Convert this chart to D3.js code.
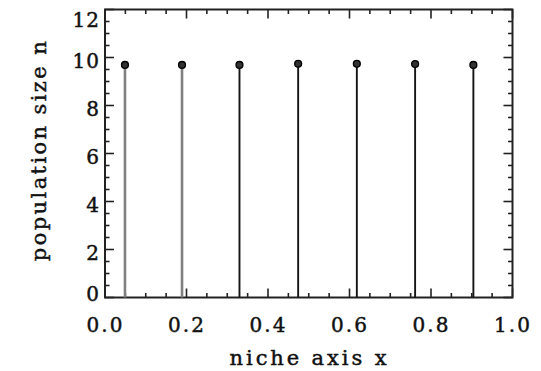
<!DOCTYPE html>
<html><head><meta charset="utf-8">
<script src="https://cdn.jsdelivr.net/npm/d3@7"></script>
<style>
html,body{margin:0;padding:0;background:#fff;}
svg text{font-family:"DejaVu Serif",serif;fill:#111;stroke:#111;stroke-width:0.45px;}
</style></head>
<body><svg id="c" width="541" height="371"></svg>
<script>
const nicheX = [0.049, 0.189, 0.330, 0.474, 0.618, 0.761, 0.904];
const popN = [9.69, 9.69, 9.69, 9.74, 9.74, 9.73, 9.69];
const xTicks = [0.0, 0.2, 0.4, 0.6, 0.8, 1.0];
const yTicks = [0, 2, 4, 6, 8, 10, 12];
const xLabel = "niche axis x";
const yLabel = "population size n";

const svg = d3.select("#c");
const L = 105, R = 512.5, T = 9.5, B = 297.5;
const x = d3.scaleLinear().domain([0, 1]).range([L, R]);
const y = d3.scaleLinear().domain([0, 12]).range([B, T]);
const ink = "#222";

// minor ticks
const xMinor = d3.range(0, 1.0001, 0.05);
const yMinor = d3.range(0, 12.0001, 0.5);
const g = svg.append("g");
function tickLen(isMajor){return isMajor ? 9 : 4.5;}
xMinor.forEach(v => {
  const major = Math.abs(v*5 - Math.round(v*5)) < 1e-6;
  const len = tickLen(major);
  g.append("line").attr("x1", x(v)).attr("x2", x(v)).attr("y1", B).attr("y2", B-len).attr("stroke", ink).attr("stroke-width", 1.6);
  g.append("line").attr("x1", x(v)).attr("x2", x(v)).attr("y1", T).attr("y2", T+len).attr("stroke", ink).attr("stroke-width", 1.6);
});
yMinor.forEach(v => {
  const major = Math.abs(v/2 - Math.round(v/2)) < 1e-6;
  const len = tickLen(major);
  g.append("line").attr("x1", L).attr("x2", L+len).attr("y1", y(v)).attr("y2", y(v)).attr("stroke", ink).attr("stroke-width", 1.6);
  g.append("line").attr("x1", R).attr("x2", R-len).attr("y1", y(v)).attr("y2", y(v)).attr("stroke", ink).attr("stroke-width", 1.6);
});

// frame
svg.append("rect").attr("x", L).attr("y", T).attr("width", R-L).attr("height", B-T)
  .attr("fill", "none").attr("stroke", ink).attr("stroke-width", 2);

// axes labels via d3 axes (lines hidden)
const xa = svg.append("g").attr("transform", `translate(0,${B})`)
  .call(d3.axisBottom(x).tickValues(xTicks).tickFormat(d3.format(".1f")).tickSize(0).tickPadding(0));
xa.select(".domain").remove();
xa.selectAll("text").attr("font-size", 20).attr("dy", null).attr("y", 34)
  .attr("font-family", "DejaVu Serif").attr("letter-spacing", 2).attr("fill", "#111");

const ya = svg.append("g").attr("transform", `translate(${L},0)`)
  .call(d3.axisLeft(y).tickValues(yTicks).tickFormat(d3.format("d")).tickSize(0).tickPadding(0));
ya.select(".domain").remove();
ya.selectAll("text").attr("font-size", 20).attr("x", -5).attr("dy", "0.38em")
  .attr("font-family", "DejaVu Serif").attr("letter-spacing", 1).attr("fill", "#111")
  .attr("transform", d => d === 12 ? "translate(0,9)" : d === 0 ? "translate(0,-5)" : "translate(0,2)");

// stems
svg.append("g").selectAll("line").data(nicheX).join("line")
  .attr("x1", d => x(d)).attr("x2", d => x(d))
  .attr("y1", y(0)).attr("y2", (d, i) => y(popN[i]))
  .attr("stroke", (d, i) => i < 2 ? "#808080" : "#151515")
  .attr("stroke-width", (d, i) => i < 2 ? 2.6 : 1.9);

// dots
svg.append("g").selectAll("circle").data(nicheX).join("circle")
  .attr("cx", d => x(d)).attr("cy", (d, i) => y(popN[i])).attr("r", 3.4)
  .attr("fill", "#333").attr("stroke", "#000").attr("stroke-width", 1.4);

// titles
svg.append("text").attr("x", 309.5).attr("y", 365).attr("text-anchor", "middle")
  .attr("font-size", 21).attr("letter-spacing", 2.9).text(xLabel);
svg.append("text").attr("transform", "translate(46,150) rotate(-90)").attr("text-anchor", "middle")
  .attr("font-size", 21).attr("letter-spacing", 2.4).text(yLabel);
</script></body></html>
